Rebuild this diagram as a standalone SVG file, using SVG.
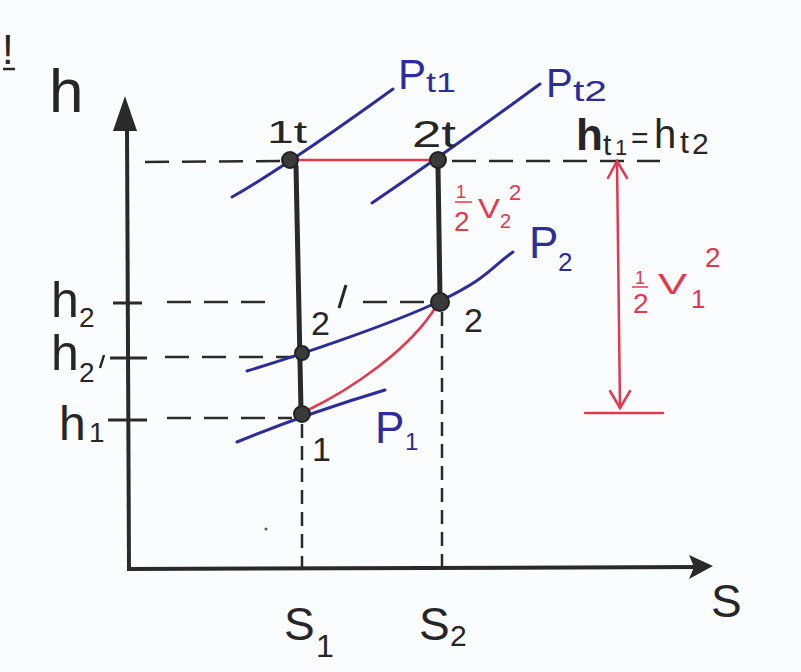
<svg xmlns="http://www.w3.org/2000/svg" width="801" height="672" viewBox="0 0 801 672">
<style>
text{font-family:"Liberation Sans","DejaVu Sans",sans-serif;fill:#262626}
.b{fill:#2d2c9c}
.r{fill:#e5384e}
.axis{stroke:#2a2a2a;stroke-width:4;fill:none}
.proc{stroke:#2a2a2a;stroke-width:5;fill:none;stroke-linecap:round}
.dash{stroke:#2a2a2a;stroke-width:2.5;stroke-dasharray:24 13;fill:none}
.vdash{stroke:#2a2a2a;stroke-width:2.5;stroke-dasharray:14 8;fill:none}
.tick{stroke:#2a2a2a;stroke-width:3}
.iso{stroke:#2d2c9c;stroke-width:3;fill:none;stroke-linecap:round}
.red{stroke:#e5384e;stroke-width:2.5;fill:none;stroke-linecap:round}
.pt{fill:#3a3a3a;stroke:#222;stroke-width:2}
</style>
<rect width="801" height="672" fill="#fbfcfd"/>
<g id="mark">
<text x="2" y="64" font-size="42">!</text>
<line x1="3" y1="69" x2="15" y2="69" stroke="#262626" stroke-width="2.5"/>
</g>
<g id="axes">
<line class="axis" x1="127" y1="128" x2="129" y2="570"/>
<polygon points="125,96 113,131 137,131" fill="#2a2a2a"/>
<line class="axis" x1="127" y1="569" x2="700" y2="567"/>
<polygon points="713,566 689,555 694,567 689,579" fill="#2a2a2a"/>
<text x="49" y="112" font-size="62">h</text>
<text x="711" y="617" font-size="46">S</text>
<line class="tick" x1="113" y1="303" x2="142" y2="303"/>
<line class="tick" x1="110" y1="358" x2="147" y2="358"/>
<line class="tick" x1="108" y1="420" x2="147" y2="420"/>
</g>
<g id="connectors">
<line class="dash" x1="145" y1="162" x2="282" y2="161"/>
<line class="dash" x1="452" y1="161" x2="660" y2="161"/>
<line class="red" x1="298" y1="160" x2="430" y2="160" stroke-width="3.5"/>
<line class="dash" x1="167" y1="302" x2="272" y2="302"/>
<line class="dash" x1="363" y1="302" x2="430" y2="302"/>
<line class="dash" x1="165" y1="357" x2="294" y2="357"/>
<line class="dash" x1="167" y1="418" x2="292" y2="418"/>
<line class="vdash" x1="302" y1="424" x2="302" y2="568"/>
<line class="vdash" x1="442" y1="312" x2="442" y2="568"/>
<line class="proc" x1="296" y1="166" x2="301" y2="410"/>
<line class="proc" x1="438" y1="166" x2="440" y2="298"/>
<path class="iso" d="M232,197 Q285,167 393,89"/>
<path class="iso" d="M372,203 Q450,150 540,84"/>
<path class="iso" d="M247,371 C290,358 390,325 440,301 S490,268 513,252"/>
<path class="iso" d="M237,442 Q305,414 385,390"/>
<path class="red" d="M306,411 C350,390 410,350 437,305" stroke-width="3"/>
<line class="red" x1="617" y1="162" x2="620" y2="408" stroke-width="2"/>
<polyline class="red" points="608,178 617,161 627,178" stroke-width="2"/>
<polyline class="red" points="610,391 620,408 630,391" stroke-width="2"/>
<line class="red" x1="585" y1="413" x2="663" y2="413" stroke-width="2"/>
<circle cx="266" cy="529" r="1.5" fill="#555"/>
</g>
<g id="node-1t">
<circle class="pt" cx="290" cy="160" r="8"/>
<text x="267" y="143" font-size="32" textLength="40" lengthAdjust="spacingAndGlyphs">1t</text>
</g>
<g id="node-2t">
<circle class="pt" cx="438" cy="160" r="8"/>
<text x="412" y="147" font-size="36" textLength="44" lengthAdjust="spacingAndGlyphs">2t</text>
</g>
<g id="node-2prime">
<circle class="pt" cx="302" cy="353" r="7"/>
<text x="311" y="335" font-size="34">2</text>
<line x1="346" y1="285" x2="339" y2="308" stroke="#262626" stroke-width="3"/>
</g>
<g id="node-2">
<circle class="pt" cx="440" cy="302" r="9"/>
<text x="464" y="332" font-size="34">2</text>
</g>
<g id="node-1">
<circle class="pt" cx="302" cy="414" r="8"/>
<text x="312" y="461" font-size="34">1</text>
</g>
<g id="label-Pt1">
<text class="b" y="89"><tspan x="398" font-size="42">P</tspan><tspan x="426" y="92" font-size="28" textLength="30" lengthAdjust="spacingAndGlyphs">t1</tspan></text>
</g>
<g id="label-Pt2">
<text class="b" y="97"><tspan x="546" font-size="40">P</tspan><tspan x="573" y="101" font-size="30" textLength="34" lengthAdjust="spacingAndGlyphs">t2</tspan></text>
</g>
<g id="label-P2">
<text class="b" y="258"><tspan x="529" font-size="44">P</tspan><tspan x="558" y="271" font-size="26">2</tspan></text>
</g>
<g id="label-P1">
<text class="b" y="443"><tspan x="375" font-size="44">P</tspan><tspan x="405" y="450" font-size="24">1</tspan></text>
</g>
<g id="label-ht">
<text y="150"><tspan x="576" font-size="44" font-weight="bold">h</tspan><tspan x="603" y="155" font-size="30">t</tspan><tspan x="615" y="155" font-size="22">1</tspan><tspan x="631" y="148" font-size="30">=</tspan><tspan x="654" y="148" font-size="40">h</tspan><tspan x="680" y="153" font-size="32">t</tspan><tspan x="692" y="154" font-size="30">2</tspan></text>
</g>
<g id="label-v2">
<text class="r" x="456" y="198" font-size="18">1</text>
<line x1="455" y1="202" x2="472" y2="202" stroke="#e5384e" stroke-width="1.5"/>
<text class="r" y="231"><tspan x="454" font-size="28">2</tspan><tspan x="478" y="218" font-size="28" textLength="22" lengthAdjust="spacingAndGlyphs">V</tspan><tspan x="500" y="228" font-size="20">2</tspan><tspan x="509" y="200" font-size="22">2</tspan></text>
</g>
<g id="label-v1">
<text class="r" x="635" y="284" font-size="18">1</text>
<line x1="632" y1="287" x2="648" y2="287" stroke="#e5384e" stroke-width="1.5"/>
<text class="r" y="313"><tspan x="633" font-size="28">2</tspan><tspan x="658" y="294" font-size="30" textLength="29" lengthAdjust="spacingAndGlyphs">V</tspan><tspan x="691" y="308" font-size="26">1</tspan><tspan x="705" y="267" font-size="28">2</tspan></text>
</g>
<g id="labels-h">
<text y="317"><tspan x="51" font-size="50">h</tspan><tspan x="79" y="327" font-size="28">2</tspan></text>
<text y="370"><tspan x="51" font-size="50">h</tspan><tspan x="79" y="382" font-size="28">2</tspan></text>
<line x1="104" y1="355" x2="100" y2="368" stroke="#262626" stroke-width="2.5"/>
<text y="440"><tspan x="59" font-size="48">h</tspan><tspan x="89" y="442" font-size="28">1</tspan></text>
</g>
<g id="labels-s">
<text y="640"><tspan x="284" font-size="46">S</tspan><tspan x="316" y="657" font-size="32">1</tspan></text>
<text y="640"><tspan x="419" font-size="46">S</tspan><tspan x="450" y="646" font-size="30">2</tspan></text>
</g>
</svg>
